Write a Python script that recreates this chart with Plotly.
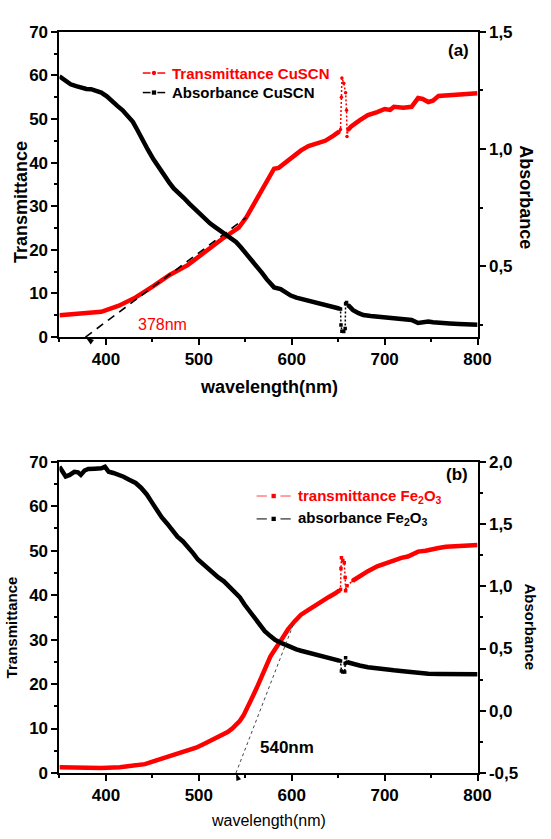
import math
import plotly.graph_objects as go

# ---------------- data: panel (a) CuSCN ----------------
wl_t_cuscn = [350, 370, 395, 414, 432, 451, 469, 488, 506, 525, 543, 551, 562, 577, 581, 586,
              590, 599, 610, 618, 627, 636, 645, 651, 652.5, 653.5, 654, 656, 658, 659, 659.5,
              660.5, 664, 673, 682, 692, 700, 706, 710, 720, 729, 736, 741, 747, 752, 758, 770,
              780, 800]
t_cuscn = [5.0, 5.3, 5.8, 7.2, 9.1, 11.7, 14.3, 16.5, 19.5, 22.5, 25.1, 27.4, 31.5, 37.0, 38.6, 38.8,
           39.5, 41.2, 42.8, 43.8, 44.3, 45.0, 46.2, 47.1, 47.6, 55.0, 59.4, 58.2, 56.0, 52.0, 46.0,
           47.5, 48.3, 49.7, 50.9, 51.6, 52.3, 52.1, 52.8, 52.6, 52.8, 54.8, 54.6, 53.9, 54.2, 55.3, 55.4,
           55.6, 55.9]

wl_a_cuscn = [350, 356, 362, 368, 373, 379, 384, 390, 395, 401, 407, 412, 418, 423, 429, 434, 440,
              445, 451, 457, 462, 468, 473, 479, 484, 490, 496, 501, 507, 512, 518, 523, 529, 534,
              540, 545, 551, 556, 562, 568, 573, 577, 581, 588, 593, 599, 605, 610, 618, 625, 633,
              640, 646, 651, 652.5, 653, 654, 656, 657.5, 658, 659, 661, 666, 672, 677, 685, 692,
              700, 710, 720, 729, 736, 741, 747, 752, 758, 770, 780, 800]
a_cuscn = [1.310, 1.292, 1.276, 1.268, 1.262, 1.256, 1.255, 1.249, 1.241, 1.225, 1.206, 1.185, 1.165,
           1.140, 1.116, 1.080, 1.040, 0.998, 0.957, 0.920, 0.888, 0.858, 0.832, 0.811, 0.791, 0.766,
           0.742, 0.721, 0.701, 0.683, 0.666, 0.652, 0.639, 0.622, 0.604, 0.582, 0.555, 0.528, 0.500,
           0.472, 0.445, 0.425, 0.410, 0.403, 0.389, 0.375, 0.366, 0.361, 0.354, 0.348, 0.341, 0.334,
           0.327, 0.320, 0.318, 0.250, 0.223, 0.222, 0.235, 0.340, 0.345, 0.333, 0.313, 0.300, 0.292,
           0.288, 0.285, 0.282, 0.278, 0.274, 0.271, 0.258, 0.262, 0.264, 0.261, 0.258, 0.256, 0.254,
           0.251]

# ---------------- data: panel (b) Fe2O3 ----------------
wl_t_fe2o3 = [350, 370, 395, 415, 432, 442, 451, 460, 469, 478, 488, 497, 506, 515, 525, 531, 536,
              540, 544, 548, 551, 555, 558, 562, 566, 570, 573, 577, 581, 584, 588, 592, 596, 603,
              610, 618, 625, 632, 640, 646, 651, 652.5, 653, 653.5, 655, 656.5, 657.5, 658, 659.5,
              666, 673, 682, 692, 700, 710, 718, 725, 731, 736, 744, 751, 758, 766, 780, 800]
t_fe2o3 = [1.3, 1.2, 1.1, 1.3, 1.6, 2.0, 2.6, 3.2, 3.8, 4.3, 4.9, 5.7, 6.6, 7.5, 8.4, 9.2, 10.0,
           10.8, 11.7, 12.9, 14.1, 15.6, 17.2, 19.0, 20.9, 22.8, 24.6, 26.2, 27.5, 28.6, 29.7, 31.0,
           32.3, 34.1, 35.6, 36.7, 37.7, 38.7, 39.6, 40.3, 41.0, 41.3, 46.0, 48.4, 47.8, 47.3, 44.0,
           41.0, 42.1, 43.3, 44.3, 45.4, 46.5, 47.1, 48.0, 48.4, 48.7, 49.3, 49.8, 50.0, 50.2, 50.6,
           50.9, 51.1, 51.3]

wl_a_fe2o3 = [350, 353, 356.7, 361, 366, 370, 373, 377, 381, 388, 395, 399, 403, 408, 414, 419, 425,
              432, 438, 444, 449, 455, 460, 466, 471, 477, 483, 488, 494, 499, 505, 510, 516, 521,
              527, 532, 538, 544, 549, 555, 560, 566, 571, 577, 582, 588, 594, 599, 605, 610, 618,
              625, 633, 640, 646, 651, 652.5, 653.5, 655, 657, 657.5, 658, 660, 666, 673, 682, 692,
              700, 710, 720, 729, 740, 747, 760, 780, 800]
a_fe2o3 = [1.961, 1.920, 1.882, 1.895, 1.920, 1.915, 1.895, 1.930, 1.942, 1.945, 1.948, 1.960, 1.920,
           1.910, 1.895, 1.880, 1.856, 1.830, 1.790, 1.738, 1.680, 1.607, 1.555, 1.503, 1.450, 1.398,
           1.360, 1.319, 1.265, 1.215, 1.175, 1.136, 1.100, 1.071, 1.040, 1.005, 0.960, 0.913, 0.855,
           0.796, 0.740, 0.691, 0.640, 0.600, 0.570, 0.547, 0.525, 0.508, 0.493, 0.482, 0.468, 0.456,
           0.442, 0.429, 0.416, 0.403, 0.400, 0.320, 0.311, 0.312, 0.380, 0.425, 0.390, 0.375, 0.364,
           0.350, 0.338, 0.332, 0.325, 0.318, 0.311, 0.302, 0.298, 0.296, 0.294, 0.293]

# detector-change region (nm) drawn with a light dotted line
switch_lo, switch_hi = 652, 660

# band-gap tangent lines: x-intercept (nm) and upper end point
edge_a_nm = 378
tangent_a_top = [551, 27.4]
edge_b_nm = 540
tangent_b_top = [603, 34.1]

# tick labels
x_ticks = [400, 500, 600, 700, 800]
t_ticks = [0, 10, 20, 30, 40, 50, 60, 70]
abs_ticks_a = [0.5, 1.0, 1.5]
abs_labels_a = ["0,5", "1,0", "1,5"]
abs_ticks_b = [-0.5, 0.0, 0.5, 1.0, 1.5, 2.0]
abs_labels_b = ["-0,5", "0,0", "0,5", "1,0", "1,5", "2,0"]

W, H = 551, 839
FONT = "Liberation Sans, Arial, sans-serif"
RED = "#ff0000"
X_RANGE = [350, 800]
T_RANGE = [0, 70]


def px(x):
    return x / W


def py(y):
    return 1 - y / H


X_DOM = [px(61), px(490)]
DOM_A = [py(335.7), py(23.3)]
DOM_B = [py(781.7), py(463.3)]

fig = go.Figure()


def add_series(wl, vals, color, symbol, xa, ya):
    inside = [i for i, w in enumerate(wl) if switch_lo < w < switch_hi]
    main_y = [None if switch_lo < w < switch_hi else v for w, v in zip(wl, vals)]
    fig.add_trace(go.Scatter(x=wl, y=main_y, mode="lines", line=dict(color=color, width=4.5),
                             connectgaps=False, xaxis=xa, yaxis=ya, showlegend=False))
    i0, i1 = max(inside[0] - 1, 0), min(inside[-1] + 1, len(wl) - 1)
    fig.add_trace(go.Scatter(x=wl[i0:i1 + 1], y=vals[i0:i1 + 1], mode="lines+markers",
                             line=dict(color=color, width=1.5, dash="2px,2px"),
                             marker=dict(color=color, size=3.5, symbol=symbol),
                             xaxis=xa, yaxis=ya, showlegend=False))


add_series(wl_t_cuscn, t_cuscn, RED, "circle", "x", "y")
add_series(wl_a_cuscn, a_cuscn, "black", "square", "x", "y2")
add_series(wl_t_fe2o3, t_fe2o3, RED, "square", "x2", "y3")
add_series(wl_a_fe2o3, a_fe2o3, "black", "square", "x2", "y4")

tick_font = dict(family=FONT, size=17, color="black", weight="bold")
axis_common = dict(showline=True, linecolor="black", linewidth=2, ticks="outside", ticklen=6,
                   tickwidth=2, tickcolor="black", showgrid=False, zeroline=False,
                   tickfont=tick_font)


def x_axis(anchor):
    return dict(domain=X_DOM, anchor=anchor, range=X_RANGE, tickmode="array", tickvals=x_ticks,
                ticktext=[str(v) for v in x_ticks], mirror=True,
                minor=dict(tickmode="linear", tick0=350, dtick=50, ticks="outside", ticklen=3,
                           tickwidth=2, tickcolor="black"),
                **axis_common)


def t_axis(domain, anchor):
    return dict(domain=domain, anchor=anchor, range=T_RANGE, tickmode="array", tickvals=t_ticks,
                ticktext=[str(v) for v in t_ticks],
                minor=dict(tickmode="linear", tick0=5, dtick=10, ticks="outside", ticklen=3,
                           tickwidth=2, tickcolor="black"),
                **axis_common)


def abs_axis(anchor, overlay, rng, vals, labels, minor0):
    return dict(anchor=anchor, overlaying=overlay, side="right", range=rng, tickmode="array",
                tickvals=vals, ticktext=labels,
                minor=dict(tickmode="linear", tick0=minor0, dtick=0.5, ticks="outside", ticklen=3,
                           tickwidth=2, tickcolor="black"),
                **axis_common)


fig.update_layout(
    width=W, height=H,
    margin=dict(l=0, r=0, t=0, b=0),
    paper_bgcolor="white", plot_bgcolor="white",
    showlegend=False,
    xaxis=x_axis("y"),
    yaxis=t_axis(DOM_A, "x"),
    yaxis2=abs_axis("x", "y", [0.198, 1.5], abs_ticks_a, abs_labels_a, 0.25),
    xaxis2=x_axis("y3"),
    yaxis3=t_axis(DOM_B, "x2"),
    yaxis4=abs_axis("x2", "y3", [-0.5, 2.0], abs_ticks_b, abs_labels_b, -0.25),
)

shapes = []
annotations = []


def text(x, y, s, size, bold=True, color="black", angle=0, xanchor="center"):
    annotations.append(dict(x=px(x), y=py(y), xref="paper", yref="paper", text=s, showarrow=False,
                            textangle=angle, xanchor=xanchor, yanchor="middle",
                            font=dict(family=FONT, size=size, color=color,
                                      weight="bold" if bold else "normal")))


# axis titles and panel labels
text(21.5, 197.5, "Transmittance", 18, angle=-90)
text(539.5, 192.5, "Absorbance", 18, angle=90)
text(275.5, 386.7, "wavelength(nm)", 18)
text(470, 42, "(a)", 17)
text(11.5, 632.5, "Transmittance", 15, angle=-90)
text(544.5, 632.5, "Absorbance", 15, angle=90)
text(275.5, 830.5, "wavelength(nm)", 16, bold=False)
text(469, 476.5, "(b)", 17)

# band-edge labels
text(167, 322.7, f"{edge_a_nm}nm", 16, bold=False, color=RED)
text(294, 756, f"{edge_b_nm}nm", 17)


def legend_item(y, x0, x1, gap, line_color, mark_color, mark, label, label_color, size):
    mid = (x0 + x1) / 2
    for a, b in [(x0, mid - gap), (mid + gap, x1)]:
        shapes.append(dict(type="line", xref="paper", yref="paper", x0=px(a), x1=px(b),
                           y0=py(y), y1=py(y), line=dict(color=line_color, width=1.5)))
    r = 2.2
    shapes.append(dict(type="circle" if mark == "circle" else "rect", xref="paper", yref="paper",
                       x0=px(mid - r), x1=px(mid + r), y0=py(y + r), y1=py(y - r),
                       fillcolor=mark_color, line=dict(color=mark_color, width=0)))
    text(x1 + 5, y, label, size, color=label_color, xanchor="left")


legend_item(65.5, 146.5, 169.5, 3.5, RED, RED, "circle", "Transmittance CuSCN", RED, 15)
legend_item(85.5, 146.5, 169.5, 3.5, "black", "black", "square", "Absorbance CuSCN", "black", 15)
legend_item(498.3, 263.3, 298.3, 7, "#ff8080", RED, "square",
            "transmittance Fe<sub>2</sub>O<sub>3</sub>", RED, 15)
legend_item(521.7, 263.3, 298.3, 7, "#555555", "black", "square",
            "absorbance Fe<sub>2</sub>O<sub>3</sub>", "black", 15)


# tangent lines marking the absorption edge, with an arrowhead at the intercept
def tangent(edge, top, xa, ya, dom, color, width, dash, head):
    shapes.append(dict(type="line", xref=xa, yref=ya, x0=edge, y0=0, x1=top[0], y1=top[1],
                       line=dict(color=color, width=width, dash=dash)))
    sx = (X_DOM[1] - X_DOM[0]) * W / (X_RANGE[1] - X_RANGE[0])
    sy = (dom[1] - dom[0]) * H / (T_RANGE[1] - T_RANGE[0])
    vx, vy = -(top[0] - edge) * sx, top[1] * sy
    ang = math.degrees(math.atan2(vx, vy))
    fig.add_trace(go.Scatter(x=[edge], y=[0], mode="markers", xaxis=xa, yaxis=ya,
                             marker=dict(symbol="arrow", size=head, angle=ang, color="black",
                                         line=dict(width=0)),
                             cliponaxis=False, showlegend=False, hoverinfo="skip"))


tangent(edge_a_nm, tangent_a_top, "x", "y", DOM_A, "black", 1.6, "8px,6px", 9)
tangent(edge_b_nm, tangent_b_top, "x2", "y3", DOM_B, "#444444", 1, "3px,3px", 8)

fig.update_layout(shapes=shapes, annotations=annotations)

fig.write_html("out.html")
